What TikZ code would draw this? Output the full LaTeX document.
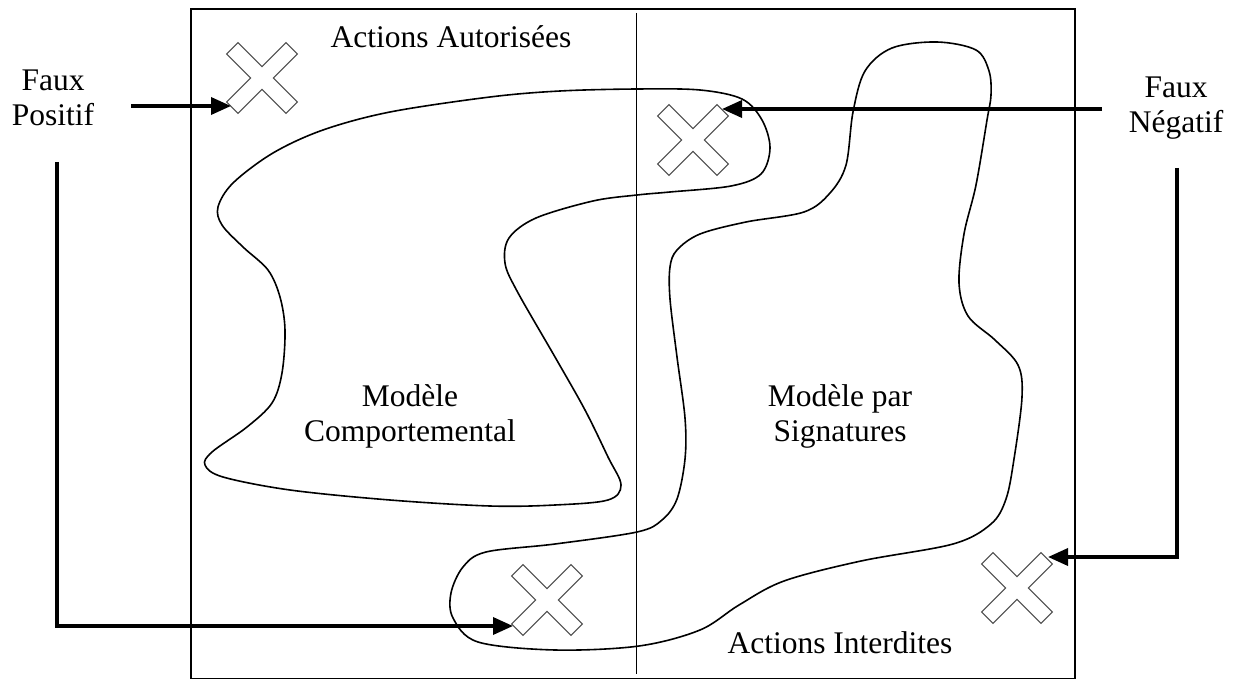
\documentclass[tikz,border=0pt]{standalone}
\usepackage{fontspec}
\setmainfont{Liberation Serif}
\usetikzlibrary{arrows.meta}
\begin{document}
\begin{tikzpicture}[x=1pt,y=-1pt,
  frame/.style={line width=1.8pt},
  region/.style={line width=1.6pt, line join=round},
  pointer/.style={line width=3.5pt, -{Triangle[length=20pt,width=17pt]}},
  caption/.style={font=\fontsize{31.5}{35}\selectfont, inner sep=0pt, align=center, anchor=base},
  xmark/.pic={\draw[line width=1.1pt, draw=black!70, line join=miter, rotate=45]
    (42,8) -- (8,8) -- (8,42) -- (-8,42) -- (-8,8) -- (-42,8) -- (-42,-8)
    -- (-8,-8) -- (-8,-42) -- (8,-42) -- (8,-8) -- (42,-8) -- cycle;}
]
\useasboundingbox (0,0) rectangle (1241,679);

% outer frame and the split between allowed / forbidden actions
\draw[frame] (191,9) rectangle (1075,678.5);
\draw[frame] (636.5,13) -- (636.5,674);

% behavioural model region
\draw[region] plot[smooth cycle, tension=0.55] coordinates {
  (637,89) (700,90) (742,99) (762,120) (770,148) (761,174) (731,186) (670,192)
  (637,195) (593,201) (536,218) (509,238) (505,263) (517,291) (555,357) (585,410)
  (608,457) (621,485) (608,500) (555,505) (490,506) (390,500) (290,490) (223,477)
  (205,465) (212,452) (247,427) (272,403) (282,373) (285,330) (280,297) (268,270)
  (243,247) (222,225) (218,207) (233,183) (273,153) (323,130) (390,112) (490,97)
  (560,91)};

% signature model region
\draw[region] plot[smooth cycle, tension=0.55] coordinates {
  (937,42) (976,50) (989,71) (991,95) (987,120) (976,185) (964,234) (959,283)
  (968,316) (995,340) (1018,365) (1022,397) (1014,459) (1006,499) (991,524)
  (953,544) (861,561) (784,581) (739,605) (700,630) (639,646) (555,650) (478,642)
  (453,618) (451,593) (463,567) (486,552) (555,544) (637,532) (662,520) (677,499)
  (685,459) (685,418) (677,357) (670,299) (670,267) (677,250) (700,234) (746,222)
  (804,212) (830,193) (846,165) (853,112) (865,71) (892,48)};

% error marks
\pic at (262,78) {xmark};
\pic at (693,140) {xmark};
\pic at (547,600) {xmark};
\pic at (1017,588) {xmark};

% labels (two-line labels are anchored on their last baseline)
\node[caption] (allowed) at (451,48) {Actions Autorisées};
\node[caption] (forbidden) at (840,653) {Actions Interdites};
\node[caption] (behav) at (410,441) {Modèle\\Comportemental};
\node[caption] (sign) at (840,441) {Modèle par\\Signatures};
\node[caption] (fp) at (53,126) {Faux\\Positif};
\node[caption] (fn) at (1176,133) {Faux\\Négatif};

% pointer ends
\coordinate (fpA) at (131,106);
\coordinate (markA) at (231,106);
\coordinate (fpB) at (57,162);
\coordinate (markC) at (513,626);
\coordinate (fnA) at (1102,109);
\coordinate (markB) at (722,109);
\coordinate (fnB) at (1177,168);
\coordinate (markD) at (1048,557);

\draw[pointer] (fpA) -- (markA);
\draw[pointer] (fpB) |- (markC);
\draw[pointer] (fnA) -- (markB);
\draw[pointer] (fnB) |- (markD);
\end{tikzpicture}
\end{document}
